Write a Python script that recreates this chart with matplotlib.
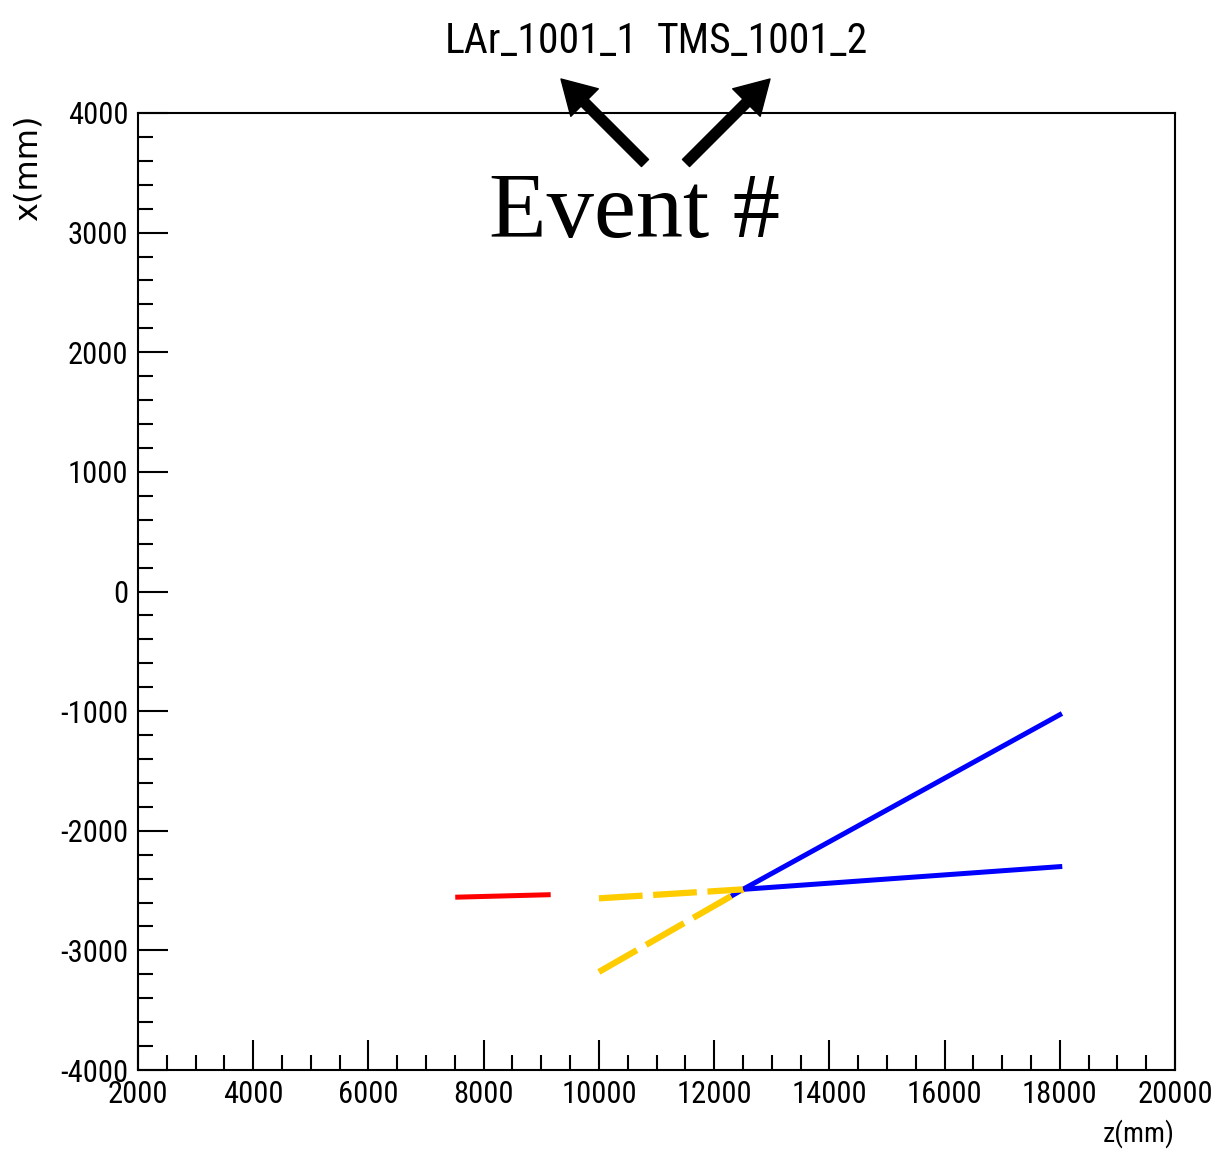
import matplotlib
matplotlib.use('Agg')
import matplotlib.pyplot as plt
from matplotlib.ticker import MultipleLocator, FuncFormatter

# track segments: z (mm) along beam, x (mm) transverse
red_z = [7550, 9120]
red_x = [-2555, -2535]

yel_top_z = [10000, 12500]
yel_top_x = [-2565, -2490]
yel_low_z = [10000, 12500]
yel_low_x = [-3180, -2490]

blue_up_z = [12050, 12500, 18000]
blue_up_x = [-2615, -2490, -1030]
blue_flat_z = [12500, 18000]
blue_flat_x = [-2490, -2300]

event_labels = ['LAr_1001_1', 'TMS_1001_2']

plt.rcParams['axes.unicode_minus'] = False
cond = ['Roboto Condensed', 'DejaVu Sans']

W, H = 1211, 1155
fig = plt.figure(figsize=(W / 100, H / 100), dpi=100)
ax = fig.add_axes([138 / W, 1 - 1070 / H, (1175 - 138) / W, (1070 - 113) / H])

# tracks
ax.plot(blue_up_z, blue_up_x, color='#0000ff', lw=3.6)
ax.plot(blue_flat_z, blue_flat_x, color='#0000ff', lw=3.6)
ax.plot(red_z, red_x, color='#ff0000', lw=3.6)
ax.plot(yel_top_z, yel_top_x, color='#ffcc00', lw=4.5, dashes=(7, 1.7))
ax.plot(yel_low_z, yel_low_x, color='#ffcc00', lw=4.5, dashes=(7, 1.7))

ax.set_xlim(2000, 20000)
ax.set_ylim(-4000, 4000)

# ROOT-like ticks
ax.xaxis.set_major_locator(MultipleLocator(2000))
ax.xaxis.set_minor_locator(MultipleLocator(500))
ax.yaxis.set_major_locator(MultipleLocator(1000))
ax.yaxis.set_minor_locator(MultipleLocator(200))
fmt = FuncFormatter(lambda v, p: '%d' % v)
ax.xaxis.set_major_formatter(fmt)
ax.yaxis.set_major_formatter(fmt)
ax.tick_params(which='major', direction='in', length=21.6, width=1.5, pad=7,
               labelsize=22, top=False, right=False)
ax.tick_params(which='minor', direction='in', length=10.8, width=1.5,
               top=False, right=False)
for lab in ax.get_xticklabels() + ax.get_yticklabels():
    lab.set_family(cond)
for s in ax.spines.values():
    s.set_linewidth(1.5)

# axis titles
fig.text(28 / W, 1 - 115 / H, 'x(mm)', rotation=90, ha='center', va='top',
         fontsize=23, family='DejaVu Sans')
fig.text(1175 / W, 1 - 1148 / H, 'z(mm)', ha='right', va='bottom',
         fontsize=20, family=cond)

# event labels and annotation
fig.text(541 / W, 1 - 53 / H, event_labels[0], ha='center', va='baseline',
         fontsize=30, family=cond)
fig.text(762 / W, 1 - 53 / H, event_labels[1], ha='center', va='baseline',
         fontsize=30, family=cond)
fig.text(635 / W, 1 - 237 / H, 'Event #', ha='center', va='baseline',
         fontsize=68, family=['Liberation Serif', 'DejaVu Serif'])

arrow = dict(arrowstyle='simple,head_length=0.6,head_width=0.7,tail_width=0.18',
             mutation_scale=40, color='black', shrinkA=0, shrinkB=0)
ax.annotate('', xy=(561, H - 79), xytext=(645, H - 163),
            xycoords='figure pixels', textcoords='figure pixels', arrowprops=arrow)
ax.annotate('', xy=(770, H - 79), xytext=(686, H - 163),
            xycoords='figure pixels', textcoords='figure pixels', arrowprops=arrow)

fig.savefig('out.png', dpi=100)
